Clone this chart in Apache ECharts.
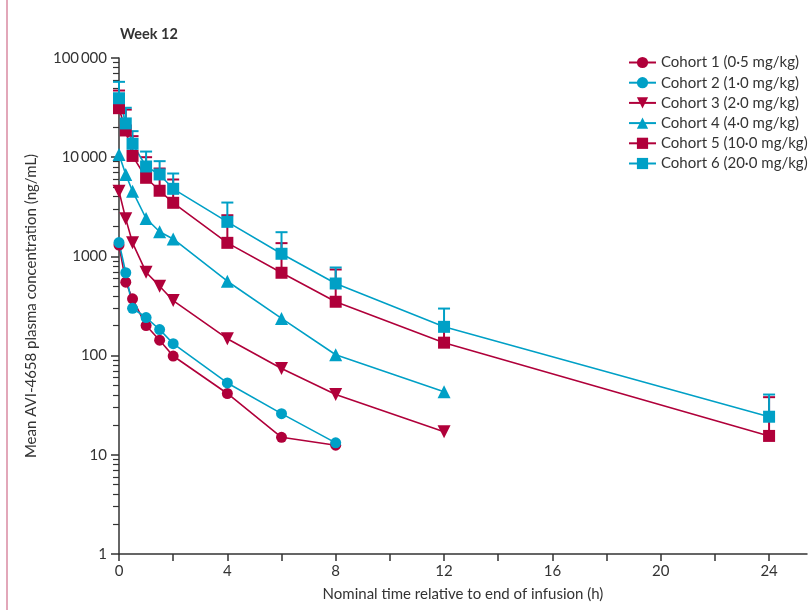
<!DOCTYPE html>
<html>
<head>
<meta charset="utf-8">
<script src="https://cdn.jsdelivr.net/npm/echarts@6/dist/echarts.min.js"></script>
<style>
  html, body { margin: 0; padding: 0; background: #fff; }
  #chart { width: 811px; height: 610px; }
</style>
</head>
<body>
<div id="chart"></div>
<script>
// nominal sampling times (h)
var times = [0, 0.25, 0.5, 1, 1.5, 2, 4, 6, 8, 12, 24];

// mean concentrations (ng/mL)
var cohort1 = [1300, 550, 374, 201, 143, 99, 41.5, 15, 12.5];
var cohort2 = [1380, 684, 300, 242, 183, 132, 53, 26, 13.2];
var cohort3 = [4540, 2390, 1370, 693, 501, 359, 148, 74, 40.5, 17.1];
var cohort4 = [10650, 6700, 4540, 2410, 1770, 1500, 562, 237, 102, 43.2];
var cohort5 = [31200, 18600, 10300, 6200, 4590, 3470, 1370, 684, 349, 135, 15.5];
var cohort6 = [39300, 21900, 13650, 8060, 6700, 4800, 2230, 1063, 533, 195, 24.2];

// upper ends of the error bars (only cohorts 5 and 6 show them)
var cohort5Upper = [47000, 30200, 16300, 10000, 7690, 5960, 2600, 1360, 738, 200, 38.1];
var cohort6Upper = [57500, 31500, 18300, 11400, 9120, 6850, 3490, 1754, 773, 298, 40.5];

var cohortNames = ['Cohort 1 (0·5 mg/kg)', 'Cohort 2 (1·0 mg/kg)', 'Cohort 3 (2·0 mg/kg)',
                   'Cohort 4 (4·0 mg/kg)', 'Cohort 5 (10·0 mg/kg)', 'Cohort 6 (20·0 mg/kg)'];

var xTicks = [0, 2, 4, 6, 8, 10, 12, 14, 16, 18, 20, 22, 24];
var xLabels = [0, 4, 8, 12, 16, 20, 24];
var yLabels = {1: '1', 10: '10', 100: '100', 1000: '1000', 10000: '10\u2009000', 100000: '100\u2009000'};

var RED = '#b0003a';
var BLUE = '#00a0c6';
var FONT = 'Lato';

// minor ticks 2..9 of each decade
var minorTicks = [];
for (var k = 0; k < 5; k++) {
    for (var m = 2; m <= 9; m++) minorTicks.push(m * Math.pow(10, k));
}

function pairs(vals) {
    return vals.map(function (v, i) { return [times[i], v]; });
}

function errBars(vals, upper) {
    return vals.map(function (v, i) { return [times[i], v, upper[i]]; });
}

function lineSeries(name, vals, color, symbol, size, rotate) {
    return {
        name: name,
        type: 'line',
        data: pairs(vals),
        symbol: symbol,
        symbolSize: size,
        symbolRotate: rotate || 0,
        showSymbol: true,
        lineStyle: { color: color, width: 1.6 },
        itemStyle: { color: color },
        z: 3
    };
}

function errSeries(vals, upper, color) {
    return {
        type: 'custom',
        data: errBars(vals, upper),
        encode: { x: 0, y: [1, 2] },
        z: 1,
        silent: true,
        renderItem: function (params, api) {
            var lo = api.coord([api.value(0), api.value(1)]);
            var hi = api.coord([api.value(0), api.value(2)]);
            var st = { stroke: color, lineWidth: 2 };
            return {
                type: 'group',
                children: [
                    { type: 'line', shape: { x1: lo[0], y1: lo[1], x2: hi[0], y2: hi[1] }, style: st },
                    { type: 'line', shape: { x1: hi[0] - 6, y1: hi[1], x2: hi[0] + 6, y2: hi[1] }, style: st }
                ]
            };
        }
    };
}

var chart = echarts.init(document.getElementById('chart'));

var option = {
    animation: false,
    backgroundColor: '#fff',
    textStyle: { fontFamily: FONT },
    graphic: [
        { type: 'line', shape: { x1: 7, y1: 0, x2: 7, y2: 610 }, style: { stroke: '#d98aa2', lineWidth: 1.5 } },
        { type: 'text', left: 120, top: 27, style: { text: 'Week 12', font: 'bold 14.5px ' + FONT, fill: '#333' } }
    ],
    legend: {
        orient: 'vertical',
        left: 623,
        top: 50,
        itemWidth: 27,
        itemHeight: 14,
        itemGap: 5.2,
        data: cohortNames,
        textStyle: { fontSize: 15, color: '#333', fontFamily: FONT }
    },
    grid: { left: 119, right: 4, top: 58, bottom: 56, containLabel: false },
    xAxis: {
        type: 'value',
        min: 0,
        max: 25.4,
        name: 'Nominal time relative to end of infusion (h)',
        nameLocation: 'middle',
        nameGap: 33,
        nameTextStyle: { fontSize: 15, color: '#333', fontFamily: FONT },
        axisLine: { lineStyle: { color: '#333', width: 1.5 } },
        axisTick: { customValues: xTicks, length: 7, lineStyle: { color: '#333', width: 1.5 } },
        axisLabel: { customValues: xLabels, fontSize: 15, color: '#333', margin: 10 },
        splitLine: { show: false }
    },
    yAxis: [{
        type: 'log',
        logBase: 10,
        min: 1,
        max: 100000,
        position: 'left',
        name: 'Mean AVI-4658 plasma concentration (ng/mL)',
        nameLocation: 'middle',
        nameGap: 80,
        nameTextStyle: { fontSize: 15, color: '#333', fontFamily: FONT },
        axisLine: { show: true, lineStyle: { color: '#333', width: 1.5 } },
        axisTick: { show: true, length: 8, lineStyle: { color: '#333', width: 1.5 } },
        axisLabel: {
            fontSize: 15, color: '#333', margin: 12,
            formatter: function (v) { return yLabels[Math.round(v)] || ''; }
        },
        splitLine: { show: false }
    }, {
        type: 'log',
        logBase: 10,
        min: 1,
        max: 100000,
        position: 'left',
        axisLine: { show: false },
        axisTick: { show: true, customValues: minorTicks, length: 6, lineStyle: { color: '#333', width: 1.2 } },
        axisLabel: { show: false },
        splitLine: { show: false }
    }],
    series: [
        errSeries(cohort5, cohort5Upper, RED),
        errSeries(cohort6, cohort6Upper, BLUE),
        lineSeries(cohortNames[0], cohort1, RED, 'circle', 11),
        lineSeries(cohortNames[1], cohort2, BLUE, 'circle', 11),
        lineSeries(cohortNames[2], cohort3, RED, 'triangle', 13, 180),
        lineSeries(cohortNames[3], cohort4, BLUE, 'triangle', 13),
        lineSeries(cohortNames[4], cohort5, RED, 'rect', 12),
        lineSeries(cohortNames[5], cohort6, BLUE, 'rect', 12)
    ]
};

chart.setOption(option);
</script>
</body>
</html>
